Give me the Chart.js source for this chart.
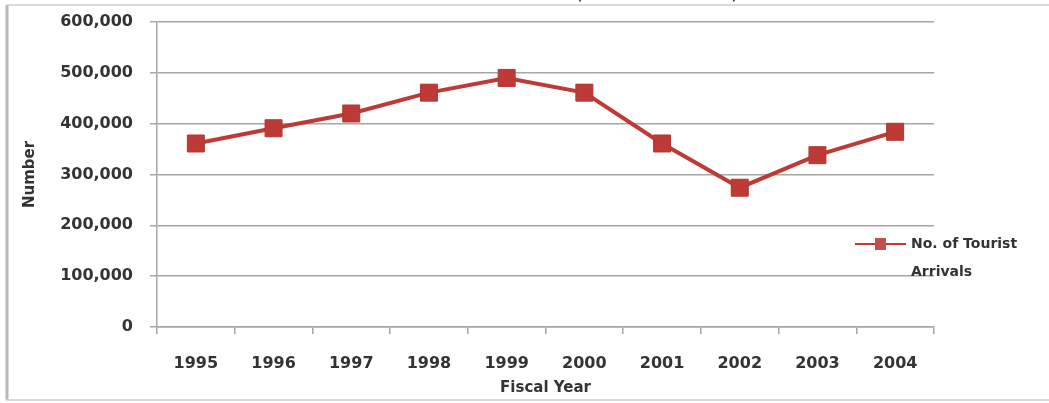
<!DOCTYPE html>
<html>
<head>
<meta charset="utf-8">
<script src="https://cdn.jsdelivr.net/npm/chart.js@4/dist/chart.umd.min.js"></script>
<style>
  html, body { margin: 0; padding: 0; background: #fff; }
  #wrap { position: relative; width: 1049px; height: 403px; }
</style>
</head>
<body>
<div id="wrap"><canvas id="c" width="1049" height="403"></canvas></div>
<script>
const years = ['1995', '1996', '1997', '1998', '1999', '2000', '2001', '2002', '2003', '2004'];
const arrivals = [361000, 391000, 420000, 461000, 490000, 461000, 361000, 274000, 338000, 384000];
const yTicks = [0, 100000, 200000, 300000, 400000, 500000, 600000];
const seriesLabel = ['No. of Tourist', 'Arrivals'];
const xTitle = 'Fiscal Year';
const yTitle = 'Number';

const RED = '#BE3A36';
const TXT = '#333333';
const GRID = '#A6A6A6';
const FONT = '"DejaVu Sans", sans-serif';

const framePlugin = {
  id: 'frame',
  beforeDraw(chart) {
    const ctx = chart.ctx;
    ctx.save();
    ctx.fillStyle = '#fff';
    ctx.fillRect(0, 0, chart.width, chart.height);
    ctx.strokeStyle = '#B8B8B8';
    ctx.lineWidth = 3;
    ctx.beginPath();
    ctx.moveTo(7, 5); ctx.lineTo(7, 400);
    ctx.stroke();
    ctx.strokeStyle = '#CFCFCF';
    ctx.lineWidth = 1.5;
    ctx.beginPath();
    ctx.moveTo(6, 5); ctx.lineTo(1049, 5);
    ctx.moveTo(6, 400); ctx.lineTo(1049, 400);
    ctx.stroke();
    // clipped title remnants
    ctx.fillStyle = '#222';
    ctx.font = '20px ' + FONT;
    ctx.textBaseline = 'alphabetic';
    ctx.fillText('(', 575, -1);
    ctx.fillText(')', 731, -1);
    ctx.restore();
  }
};

const legendPlugin = {
  id: 'sideLegend',
  afterDraw(chart) {
    const ctx = chart.ctx;
    const a = chart.chartArea;
    const x0 = a.right - 79, y0 = 244;
    ctx.save();
    ctx.strokeStyle = RED;
    ctx.lineWidth = 2;
    ctx.beginPath();
    ctx.moveTo(x0, y0); ctx.lineTo(x0 + 51, y0);
    ctx.stroke();
    ctx.fillStyle = '#C0504D';
    ctx.fillRect(x0 + 20, y0 - 6, 11, 12);
    ctx.fillStyle = TXT;
    ctx.font = 'bold 14px ' + FONT;
    ctx.textBaseline = 'middle';
    ctx.textAlign = 'left';
    ctx.fillText(seriesLabel[0], x0 + 56, y0);
    ctx.fillText(seriesLabel[1], x0 + 56, y0 + 28);
    ctx.restore();
  }
};

new Chart(document.getElementById('c'), {
  type: 'line',
  data: {
    labels: years,
    datasets: [{
      label: seriesLabel.join(' '),
      data: arrivals,
      borderColor: RED,
      backgroundColor: RED,
      borderWidth: 4,
      pointStyle: 'rect',
      pointRadius: 12,
      pointHoverRadius: 12,
      pointBorderWidth: 1,
      pointBorderColor: '#B33430',
      pointBackgroundColor: RED,
      tension: 0
    }]
  },
  plugins: [framePlugin, legendPlugin],
  options: {
    responsive: false,
    animation: false,
    devicePixelRatio: 1,
    layout: { padding: { top: 22, right: 115, left: 0, bottom: 0 } },
    plugins: { legend: { display: false }, tooltip: { enabled: false } },
    scales: {
      x: {
        offset: true,
        grid: {
          offset: true,
          drawOnChartArea: false,
          drawTicks: true,
          tickLength: 7,
          color: GRID,
          lineWidth: 1.5
        },
        border: { display: true, color: GRID, width: 1.5 },
        ticks: {
          color: TXT,
          font: { family: FONT, size: 16, weight: 'bold' },
          padding: 20,
          maxRotation: 0,
          autoSkip: false
        },
        title: {
          display: true,
          text: xTitle,
          color: TXT,
          font: { family: FONT, size: 15, weight: 'bold' },
          padding: { top: 0, bottom: 6 }
        },
        afterFit(scale) { scale.height = 76; }
      },
      y: {
        min: 0,
        max: 600000,
        afterBuildTicks(scale) { scale.ticks = yTicks.map(v => ({ value: v })); },
        grid: {
          color: GRID,
          lineWidth: 1.5,
          drawTicks: true,
          tickLength: 7
        },
        border: { display: true, color: GRID, width: 1.5 },
        ticks: {
          color: TXT,
          font: { family: FONT, size: 16, weight: 'bold' },
          padding: 17,
          callback: v => v.toLocaleString('en-US')
        },
        title: {
          display: true,
          text: yTitle,
          color: TXT,
          font: { family: FONT, size: 15, weight: 'bold' },
          padding: { top: 21, bottom: 0 }
        },
        afterFit(scale) {
          scale.width = 157;
          scale.paddingTop = 0;
          scale.paddingBottom = 0;
        }
      }
    }
  }
});
</script>
</body>
</html>
